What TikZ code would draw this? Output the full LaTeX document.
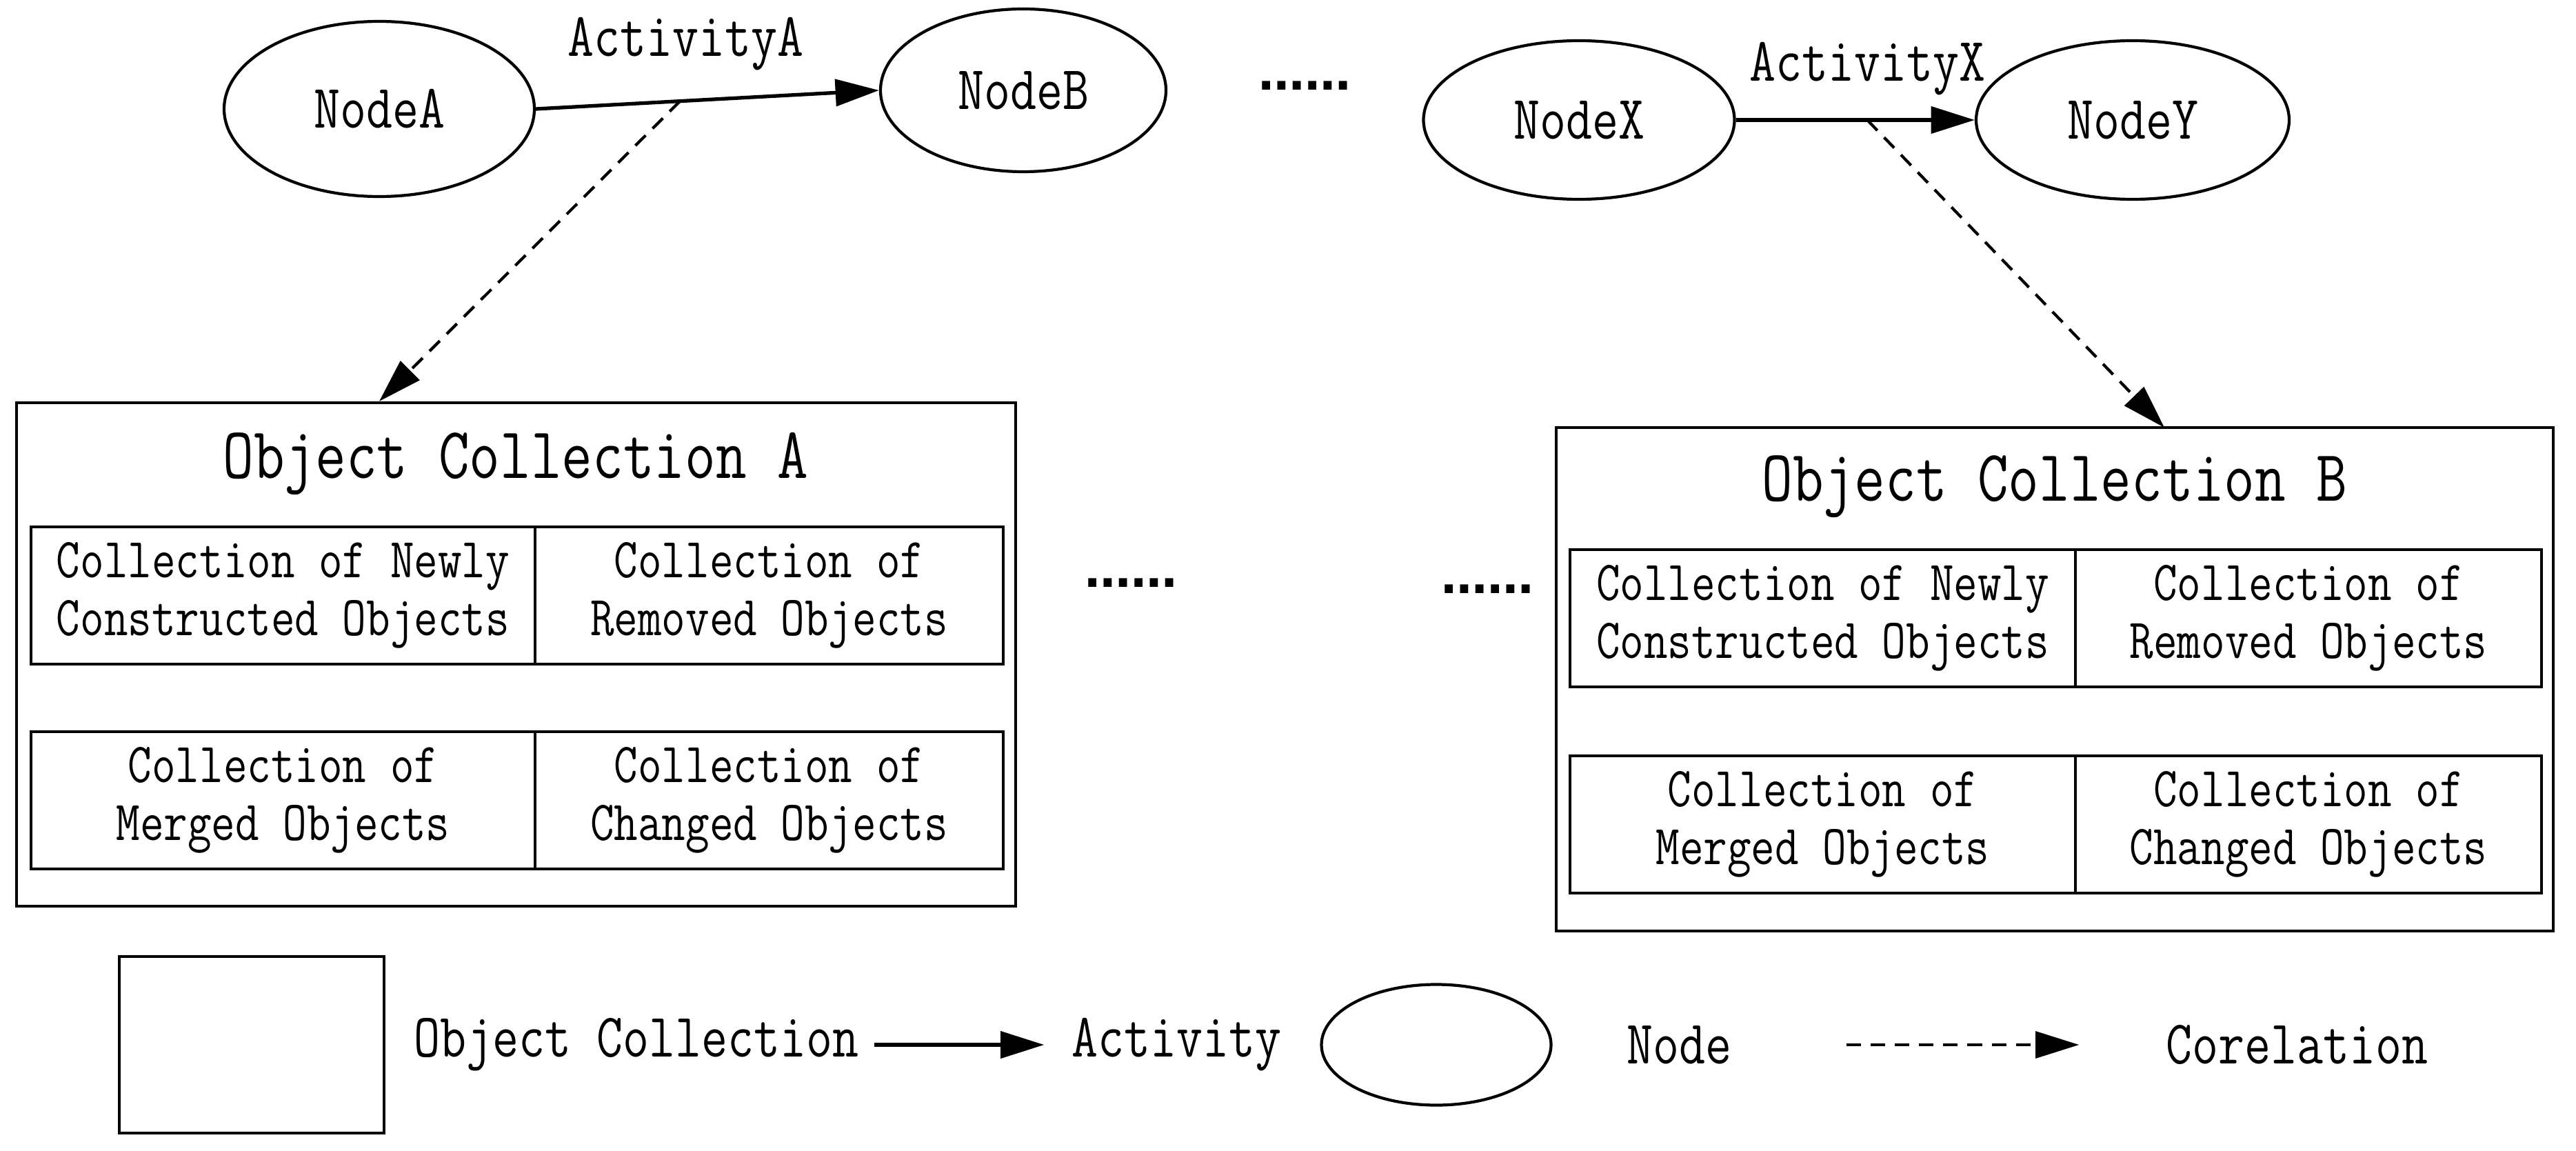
\documentclass[tikz,border=0pt]{standalone}
\usepackage{fontspec}
\setmainfont{lmmono12-regular.otf}[FakeStretch=0.82]
\newfontfamily\dotfont{DejaVu Sans}
\usetikzlibrary{arrows.meta,positioning,shapes.geometric}

\begin{document}
\begin{tikzpicture}[>={Triangle[length=18pt,width=11pt]},
  nodeell/.style={draw,ellipse,line width=1.2pt,inner sep=0pt,font=\fontsize{25.6}{28}\selectfont},
  collbox/.style={draw,rectangle,line width=1.2pt,inner sep=0pt},
  cellbox/.style={draw,rectangle,line width=1.2pt,inner sep=0pt,minimum height=1.99cm,align=center,font=\fontsize{23.3}{23.9}\selectfont},
  lbl/.style={inner sep=0pt,font=\fontsize{25.6}{28}\selectfont},
  ttl/.style={inner sep=0pt,anchor=base,font=\fontsize{30.1}{34}\selectfont},
  dotrow/.style={inner sep=0pt,anchor=base,font=\dotfont\bfseries\fontsize{19}{20}\selectfont},
  actarrow/.style={->,line width=1.5pt},
  corarrow/.style={->,line width=1.2pt,dash pattern=on 6pt off 4pt}]
\useasboundingbox (0,0) rectangle (37.36,-16.69);

\node[nodeell,minimum width=4.50cm,minimum height=2.54cm] (nodeA) at (5.50,-1.58) {NodeA};
\node[nodeell,minimum width=4.14cm,minimum height=2.36cm] (nodeB) at (14.84,-1.31) {NodeB};
\node[nodeell,minimum width=4.51cm,minimum height=2.30cm] (nodeX) at (22.90,-1.74) {NodeX};
\node[nodeell,minimum width=4.54cm,minimum height=2.30cm] (nodeY) at (30.93,-1.74) {NodeY};
\node[lbl] (actA) at (9.94,-0.64) {ActivityA};
\node[lbl] (actX) at (27.08,-1.00) {ActivityX};
\node[dotrow] (dotsTop) at (18.92,-1.31) {……};

\draw[actarrow] (nodeA.east) -- (nodeB.west) coordinate[pos=0.42] (midA);
\draw[actarrow] (nodeX.east) -- (nodeY.west) coordinate[pos=0.55] (midX);

\node[collbox,minimum width=14.49cm,minimum height=7.30cm] (boxA) at (7.485,-9.49) {};
\node[ttl] (titleA) at (7.48,-6.93) {Object Collection A};
\node[cellbox,minimum width=7.31cm] (newA) at (4.105,-8.635) {Collection of Newly\\Constructed Objects};
\node[cellbox,minimum width=6.79cm] (remA) at (11.155,-8.635) {Collection of\\Removed Objects};
\node[cellbox,minimum width=7.31cm] (merA) at (4.105,-11.605) {Collection of\\Merged Objects};
\node[cellbox,minimum width=6.79cm] (chgA) at (11.155,-11.605) {Collection of\\Changed Objects};
\node[dotrow] (dotsA) at (16.40,-8.51) {……};

\node[collbox,minimum width=14.46cm,minimum height=7.30cm] (boxB) at (29.80,-9.85) {};
\node[ttl] (titleB) at (29.80,-7.26) {Object Collection B};
\node[cellbox,minimum width=7.33cm] (newB) at (26.435,-8.965) {Collection of Newly\\Constructed Objects};
\node[cellbox,minimum width=6.76cm] (remB) at (33.48,-8.965) {Collection of\\Removed Objects};
\node[cellbox,minimum width=7.33cm] (merB) at (26.435,-11.955) {Collection of\\Merged Objects};
\node[cellbox,minimum width=6.76cm] (chgB) at (33.48,-11.955) {Collection of\\Changed Objects};
\node[dotrow] (dotsB) at (21.57,-8.60) {……};

\coordinate (tipB) at (31.39,-6.20);
\draw[corarrow] (midA) -- (boxA.north -| nodeA);
\draw[corarrow] (midX) -- (tipB);

\node[collbox,minimum width=3.84cm,minimum height=2.56cm] (legBox) at (3.65,-15.15) {};
\node[lbl] (legOC) at (9.23,-15.15) {Object Collection};
\node[lbl] (legAct) at (17.06,-15.15) {Activity};
\node[nodeell,minimum width=3.33cm,minimum height=1.75cm] (legNode) at (20.83,-15.15) {};
\node[lbl] (legNodeTxt) at (24.35,-15.15) {Node};
\node[lbl] (legCor) at (33.31,-15.15) {Corelation};
\draw[actarrow,shorten <=0.21cm,shorten >=0.39cm] (legOC.east) -- (legAct.west);
\draw[corarrow,shorten <=1.66cm,shorten >=1.25cm] (legNodeTxt.east) -- (legCor.west);
\end{tikzpicture}
\end{document}
